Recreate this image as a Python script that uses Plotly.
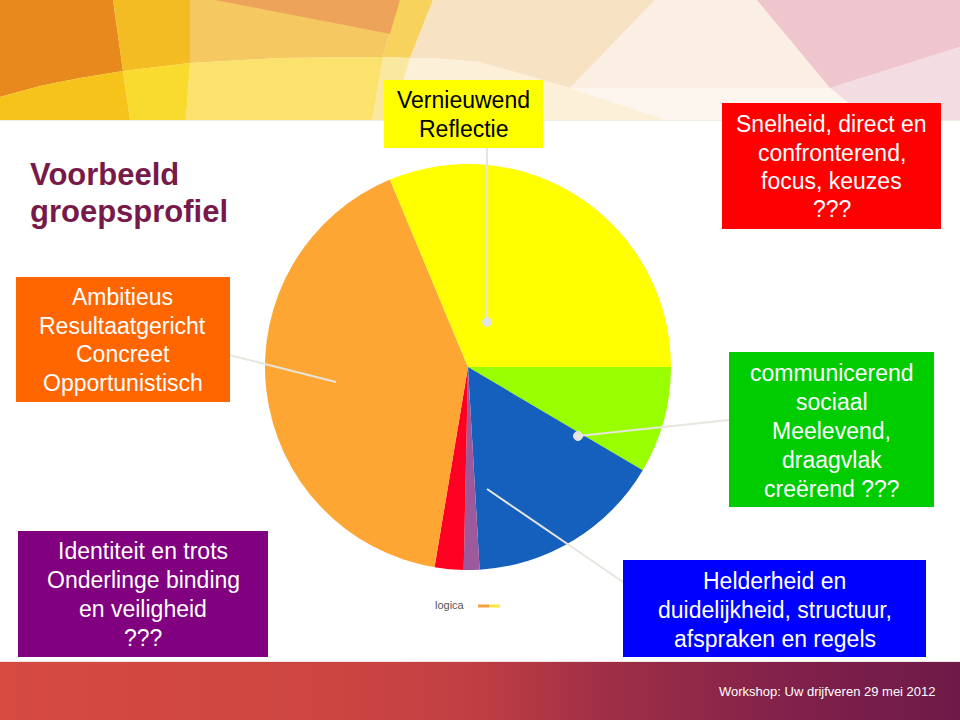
import plotly.graph_objects as go

# ---------------- data ----------------
slice_labels = ["groen", "blauw", "paars", "rood", "oranje", "geel"]
slice_values = [8.5, 15.6, 1.25, 2.3, 41.1, 31.3]
slice_colors = ["#99FF00", "#1560BD", "#9C5A9C", "#FF0022", "#FDA633", "#FFFF00"]

title_lines = ["Voorbeeld", "groepsprofiel"]
footer_text = "Workshop: Uw drijfveren 29 mei 2012"
legend_text = "logica"

box_vernieuwend = ["Vernieuwend", "Reflectie"]
box_snelheid = ["Snelheid, direct en", "confronterend,", "focus, keuzes", "???"]
box_ambitieus = ["Ambitieus", "Resultaatgericht", "Concreet", "Opportunistisch"]
box_communicerend = ["communicerend", "sociaal", "Meelevend,", "draagvlak", "creërend ???"]
box_identiteit = ["Identiteit en trots", "Onderlinge binding", "en veiligheid", "???"]
box_helderheid = ["Helderheid en", "duidelijkheid, structuur,", "afspraken en regels"]

# ---------------- helpers ----------------
W, H = 960, 720
FONT = "Liberation Sans, Arial, sans-serif"


def px(x, y):
    return x / W, 1 - y / H


def poly_path(pts):
    s = ""
    for i, (x, y) in enumerate(pts):
        X, Y = px(x, y)
        s += ("M" if i == 0 else "L") + f"{X:.5f},{Y:.5f} "
    return s + "Z"


shapes = []
annotations = []


def add_poly(pts, color):
    shapes.append(dict(type="path", xref="paper", yref="paper", path=poly_path(pts),
                       fillcolor=color, line=dict(width=0), layer="below"))


def add_rect(x0, y0, x1, y1, color, layer="above"):
    X0, Y0 = px(x0, y0)
    X1, Y1 = px(x1, y1)
    shapes.append(dict(type="rect", xref="paper", yref="paper", x0=X0, y0=Y1, x1=X1, y1=Y0,
                       fillcolor=color, line=dict(width=0), layer=layer))


def add_line(x0, y0, x1, y1, color, width=2):
    X0, Y0 = px(x0, y0)
    X1, Y1 = px(x1, y1)
    shapes.append(dict(type="line", xref="paper", yref="paper", x0=X0, y0=Y0, x1=X1, y1=Y1,
                       line=dict(color=color, width=width), layer="above"))


def add_dot(x, y, rad, fill, edge=None):
    X0, Y0 = px(x - rad, y - rad)
    X1, Y1 = px(x + rad, y + rad)
    shapes.append(dict(type="circle", xref="paper", yref="paper", x0=X0, y0=Y1, x1=X1, y1=Y0,
                       fillcolor=fill, line=dict(color=edge or fill, width=1), layer="above"))


def add_text(x, y, text, size, color, anchor="center", bold=False):
    X, Y = px(x, y)
    annotations.append(dict(x=X, y=Y, xref="paper", yref="paper", text=(f"<b>{text}</b>" if bold else text),
                            showarrow=False, xanchor=anchor, yanchor="middle",
                            font=dict(family=FONT, size=size, color=color)))


def add_box(x0, y0, x1, y1, fill, tcolor, lines, first_y, step, size=23):
    add_rect(x0, y0, x1, y1, fill)
    cxb = (x0 + x1) / 2
    for i, t in enumerate(lines):
        add_text(cxb, first_y + i * step, t, size, tcolor)


# ---------------- top decorative band ----------------
add_rect(0, 0, 960, 120, "#FBF3E6", layer="below")
add_poly([(0, 0), (113, 0), (123, 71), (80, 78), (40, 86), (0, 97)], "#E8891E")
add_poly([(113, 0), (190, 0), (190, 63), (123, 71)], "#F3BC22")
add_poly([(190, 0), (400, 0), (383, 57), (280, 58), (190, 63)], "#F6C862")
add_poly([(215, 0), (400, 0), (396, 35)], "#EDA35A")
add_poly([(400, 0), (433, 0), (410, 58), (383, 57)], "#F7D35E")
add_poly([(383, 57), (410, 58), (392, 120), (372, 120)], "#FAE7A0")
add_poly([(433, 0), (655, 0), (570, 88), (480, 62), (433, 58), (410, 58)], "#F8E2C4")
add_poly([(655, 0), (757, 0), (830, 88), (570, 88)], "#FBEFE3")
add_poly([(757, 0), (960, 0), (960, 47), (830, 88)], "#EFC6CD")
add_poly([(830, 88), (960, 47), (960, 120), (870, 120)], "#F4DCE3")
add_poly([(0, 97), (40, 86), (80, 78), (123, 71), (130, 120), (0, 120)], "#F6C31A")
add_poly([(123, 71), (190, 63), (186, 120), (130, 120)], "#F9DA2E")
add_poly([(190, 63), (280, 58), (383, 57), (372, 120), (186, 120)], "#FAE26C")
add_poly([(410, 58), (433, 58), (480, 62), (570, 88), (667, 120), (392, 120)], "#FCF1D8")
add_poly([(570, 88), (830, 88), (870, 120), (667, 120)], "#FDF6EF")
add_line(0, 120.5, 960, 120.5, "#EFEAE4", 1)

# ---------------- bottom gradient band ----------------
stops = [(0, (214, 74, 64)), (330, (205, 69, 65)), (480, (192, 62, 67)),
         (600, (160, 47, 70)), (800, (128, 32, 74)), (960, (110, 26, 72))]


def grad(x):
    for (xa, ca), (xb, cb) in zip(stops[:-1], stops[1:]):
        if xa <= x <= xb:
            t = (x - xa) / (xb - xa)
            return "rgb(%d,%d,%d)" % tuple(round(a + (b - a) * t) for a, b in zip(ca, cb))
    return "rgb(110,26,72)"


step = 8
for x in range(0, 960, step):
    add_rect(x, 662, x + step + 0.6, 720, grad(x + step / 2), layer="below")
add_line(0, 661.5, 960, 661.5, "#F1E6E2", 1)

# ---------------- pie ----------------
cx, cy, r = 468, 367, 203
fig = go.Figure()
fig.add_trace(go.Pie(
    labels=slice_labels, values=slice_values, sort=False, direction="clockwise", rotation=90,
    marker=dict(colors=slice_colors, line=dict(width=0)),
    textinfo="none", hoverinfo="label+percent", showlegend=False,
    domain=dict(x=[(cx - r) / W, (cx + r) / W], y=[1 - (cy + r) / H, 1 - (cy - r) / H]),
))

# ---------------- leader lines ----------------
LC = "#E6E6DE"
add_line(487, 148, 487, 322, LC)
add_dot(487, 322, 4.5, "#E4E4E4")
add_line(186, 344, 336, 382, LC)
add_dot(186, 344, 4.5, "#F4F4F4", "#9A9A9A")
add_line(578, 436, 729, 420, LC)
add_dot(578, 436, 4.5, "#E4E4E4")
add_line(487, 489, 645, 597, LC)
add_dot(645, 597, 4.5, "#F4F4F4", "#9A9A9A")

# ---------------- boxes ----------------
add_box(384, 80, 543, 148, "#FFFF00", "#000000", box_vernieuwend, 100, 29)
add_box(722, 103, 941, 229, "#FF0000", "#FFFFFF", box_snelheid, 124, 28.5)
add_box(16, 277, 230, 402, "#FF6600", "#FFFFFF", box_ambitieus, 297, 28.7)
add_box(729, 352, 934, 507, "#00CC00", "#FFFFFF", box_communicerend, 373, 29)
add_box(18, 531, 268, 657, "#800080", "#FFFFFF", box_identiteit, 551, 29)
add_box(623, 560, 926, 657, "#0000FF", "#FFFFFF", box_helderheid, 581, 29)

# ---------------- title, legend, footer ----------------
add_text(28, 174, title_lines[0], 31, "#771A4A", anchor="left", bold=True)
add_text(28, 211, title_lines[1], 31, "#771A4A", anchor="left", bold=True)

add_text(433, 605, legend_text, 11, "#555555", anchor="left")
add_line(478, 606, 489, 606, "#F4A040", 3)
add_line(489, 606, 500, 606, "#FFE640", 3)

add_text(938, 691, footer_text, 13, "#FFFFFF", anchor="right")

fig.update_layout(
    width=W, height=H, margin=dict(l=0, r=0, t=0, b=0),
    paper_bgcolor="#FFFFFF", plot_bgcolor="#FFFFFF",
    shapes=shapes, annotations=annotations, showlegend=False,
)
fig.write_html("out.html")
